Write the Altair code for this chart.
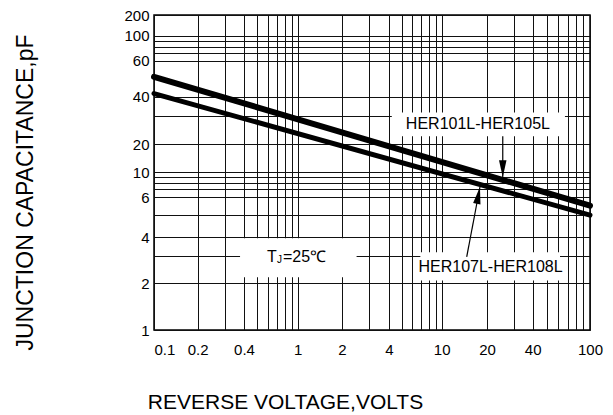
import altair as alt
import pandas as pd

# ---- data ----
volts = [0.1, 100]
cap_101_105 = [50.0, 5.5]
cap_107_108 = [41.4, 5.0]

x_tick_labels = [0.1, 0.2, 0.4, 1, 2, 4, 10, 20, 40, 100]
y_tick_labels = [1, 2, 4, 6, 10, 20, 40, 60, 100, 200]
x_grid = [0.1, 0.2, 0.3, 0.4, 0.5, 0.6, 0.7, 0.8, 0.9, 1, 2, 3, 4, 5, 6, 7, 8, 9,
          10, 20, 30, 40, 50, 60, 70, 80, 90, 100]
y_grid = [1, 2, 3, 4, 5, 6, 7, 8, 9, 10, 20, 30, 40, 60, 70, 80, 90, 100, 200]

label_names = ["HER101L-HER105L", "HER107L-HER108L"]
label_x = [17.4, 21.1]
label_y = [26.7, 2.54]

box_x = [4.2, 6.9, 0.377]
box_x2 = [67.0, 61.9, 2.48]
box_y = [31.8, 3.19, 3.94]
box_y2 = [22.5, 2.08, 2.18]

arrow_tail_x = [25.4, 14.66]
arrow_tail_y = [22.5, 2.97]
arrow_tip_x = [25.4, 17.96]
arrow_tip_y = [9.0, 7.36]

tj_x = [0.955]
tj_y = [2.97]

# ---- scales (the printed grid of the datasheet is not evenly spaced) ----
W, H = 436, 315
x_px = [0, 43.7, 90, 143.7, 188, 235, 287.7, 333, 378.7, 436]
y_px = [315, 268, 222.3, 182, 157, 129.3, 81.6, 45.6, 20.6, 0]
xs = alt.Scale(type="log", domain=x_tick_labels, range=x_px, nice=False)
ys = alt.Scale(type="log", domain=y_tick_labels, range=y_px, nice=False)

FONT = "Liberation Sans"

lines_df = pd.DataFrame({
    "x": volts + volts,
    "y": cap_101_105 + cap_107_108,
    "series": ["HER101L-HER105L"] * 2 + ["HER107L-HER108L"] * 2,
})
boxes_df = pd.DataFrame({"x": box_x, "x2": box_x2, "y": box_y, "y2": box_y2})
labels_df = pd.DataFrame({"x": label_x, "y": label_y, "t": label_names})
arrows_df = pd.DataFrame({"x": arrow_tail_x, "y": arrow_tail_y,
                          "x2": arrow_tip_x, "y2": arrow_tip_y, "id": [0, 1]})
tj_df = pd.DataFrame({"x": tj_x, "y": tj_y})

x_list = "[" + ",".join(str(v) for v in x_tick_labels) + "]"
y_list = "[" + ",".join(str(v) for v in y_tick_labels) + "]"

x_axis = alt.Axis(
    values=x_grid,
    labelExpr=f"indexof({x_list}, datum.value) >= 0 ? datum.value + '' : ''",
    labelOverlap=False,
    grid=True, gridColor="#111", gridWidth=1, gridOpacity=1,
    ticks=False, tickSize=0, domain=False,
    labelPadding=12, labelFontSize=15, labelFont=FONT, labelColor="#000",
    labelAlign={"condition": {"test": "datum.value <= 0.1", "value": "left"}, "value": "center"},
    title="REVERSE VOLTAGE,VOLTS", titleFont=FONT, titleFontSize=21,
    titleFontWeight="normal", titleColor="#000",
    titleX=131, titleY=72, titleAlign="center", titleBaseline="middle",
)
y_axis = alt.Axis(
    values=y_grid,
    labelExpr=f"indexof({y_list}, datum.value) >= 0 ? datum.value + '' : ''",
    labelOverlap=False,
    grid=True, gridColor="#111", gridWidth=1, gridOpacity=1,
    ticks=False, tickSize=0, domain=False,
    labelPadding=5, labelFontSize=15, labelFont=FONT, labelColor="#000",
    title="JUNCTION CAPACITANCE,pF", titleFont=FONT, titleFontSize=23,
    titleFontWeight="normal", titleColor="#000",
    titleX=-129, titleY=177, titleAngle=270, titleAlign="center", titleBaseline="middle",
)

base_lines = alt.Chart(lines_df)

upper = base_lines.transform_filter(alt.datum.series == "HER101L-HER105L").mark_line(
    color="#000", strokeWidth=6, strokeCap="round"
).encode(x=alt.X("x:Q", scale=xs, axis=x_axis), y=alt.Y("y:Q", scale=ys, axis=y_axis))

lower = base_lines.transform_filter(alt.datum.series == "HER107L-HER108L").mark_line(
    color="#000", strokeWidth=5, strokeCap="round"
).encode(x=alt.X("x:Q", scale=xs), y=alt.Y("y:Q", scale=ys))

boxes = alt.Chart(boxes_df).mark_rect(color="white", opacity=1).encode(
    x=alt.X("x:Q", scale=xs), x2="x2:Q", y=alt.Y("y:Q", scale=ys), y2="y2:Q"
)

arrow_lines = alt.Chart(arrows_df).mark_rule(color="#000", strokeWidth=1.2).encode(
    x=alt.X("x:Q", scale=xs), x2="x2:Q", y=alt.Y("y:Q", scale=ys), y2="y2:Q"
)

head_shape = "M0,0L-0.22,1L0.22,1Z"
heads = []
for idx, ang in [(0, 180), (1, 10.8)]:
    heads.append(
        alt.Chart(arrows_df).transform_filter(alt.datum.id == idx).mark_point(
            shape=head_shape, filled=True, color="#000", opacity=1, size=1156,
            angle=ang, strokeWidth=0
        ).encode(x=alt.X("x2:Q", scale=xs), y=alt.Y("y2:Q", scale=ys))
    )

labels = alt.Chart(labels_df).mark_text(
    font=FONT, fontSize=16, color="#000", align="center", baseline="middle"
).encode(x=alt.X("x:Q", scale=xs), y=alt.Y("y:Q", scale=ys), text="t:N")

tj_T = alt.Chart(tj_df).mark_text(
    text="T", font=FONT, fontSize=16, color="#000", align="left", baseline="middle", dx=-28
).encode(x=alt.X("x:Q", scale=xs), y=alt.Y("y:Q", scale=ys))
tj_J = alt.Chart(tj_df).mark_text(
    text="J", font=FONT, fontSize=10, color="#000", align="left", baseline="middle", dx=-18, dy=3
).encode(x=alt.X("x:Q", scale=xs), y=alt.Y("y:Q", scale=ys))
tj_rest = alt.Chart(tj_df).mark_text(
    text="=25℃", font=FONT, fontSize=16, color="#000", align="left", baseline="middle", dx=-12
).encode(x=alt.X("x:Q", scale=xs), y=alt.Y("y:Q", scale=ys))

chart = alt.layer(
    upper, lower, boxes, arrow_lines, *heads, labels, tj_T, tj_J, tj_rest
).properties(
    width=W, height=H,
    autosize=alt.AutoSizeParams(type="none"),
    padding={"left": 146, "top": 7, "right": 15, "bottom": 92},
    background="white",
).configure_view(stroke="#000", strokeWidth=1.5)

chart.save("out.html", embed_options={"renderer": "svg", "actions": False})
